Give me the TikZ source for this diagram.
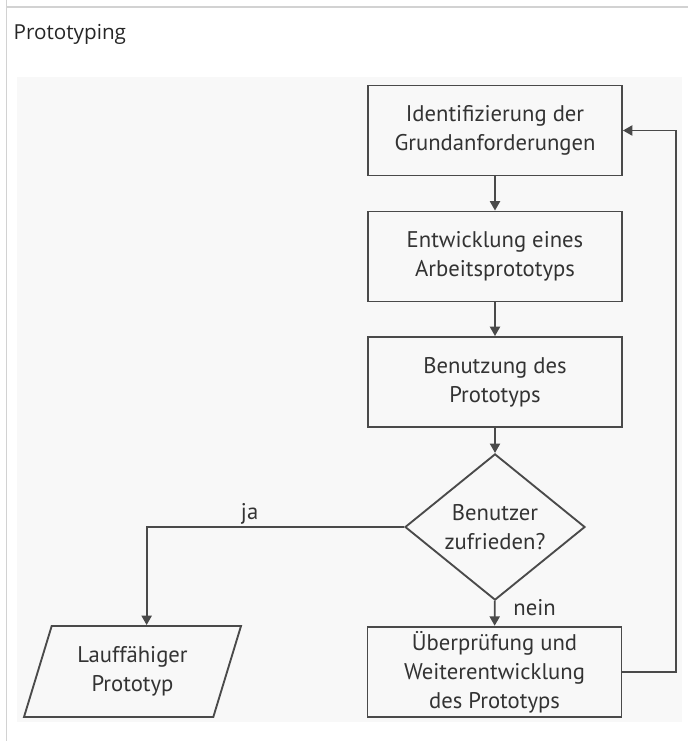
\documentclass[tikz,border=0pt]{standalone}
\usepackage{fontspec}
\setmainfont{PT Sans}
\newfontfamily\titlefont{Open Sans}
\usetikzlibrary{arrows.meta, shapes.geometric}

\definecolor{linegray}{HTML}{4A4A4A}
\definecolor{textgray}{HTML}{333333}
\definecolor{bggray}{HTML}{F8F8F8}
\definecolor{framegray}{HTML}{D2D2D2}

\newcommand{\diagfont}{\fontsize{17}{21.75}\selectfont}

\begin{document}
\begin{tikzpicture}[
    x=0.75pt, y=-0.75pt,
    box/.style={draw=linegray, line width=1.4pt, minimum height=67.5pt,
                minimum width=190.5pt, align=center, font=\diagfont, text=textgray},
    decision/.style={diamond, draw=linegray, line width=1.4pt, inner sep=0pt,
                minimum width=135pt, minimum height=93pt, align=center,
                font=\diagfont, text=textgray},
    result/.style={trapezium, trapezium left angle=64.7, trapezium right angle=115.3,
                trapezium stretches body, draw=linegray, line width=1.4pt,
                minimum width=162.75pt, minimum height=68.25pt, align=center,
                font=\diagfont, text=textgray},
    flow/.style={-{Triangle[length=7pt, width=7.5pt]}, line width=1.4pt, draw=linegray},
    note/.style={font=\diagfont, text=textgray},
]

    \useasboundingbox (0,0) rectangle (688,741);
    \fill[bggray] (17,77) rectangle (682,722);
    \draw[framegray, line width=1.1pt] (6.5,0) -- (6.5,741);
    \draw[framegray, line width=1.1pt] (6.5,7) -- (688,7);

    \node[anchor=west, font=\titlefont\fontsize{15.5}{18}\selectfont, text=black!85] (title) at (9,34) {Prototyping};

    \node[box] (ident) at (495,130.5) {Identifizierung der\\Grundanforderungen};
    \node[box] (dev) at (495,256.5) {Entwicklung eines\\Arbeitsprototyps};
    \node[box] (use) at (495,382) {Benutzung des\\Prototyps};
    \node[decision] (ok) at (495,527) {Benutzer\\zufrieden?};
    \node[box] (rev) at (494.5,672) {Überprüfung und\\Weiterentwicklung\\des Prototyps};
    \node[result] (final) at (132.5,671.5) {Lauffähiger\\Prototyp};
    \coordinate (back) at (676,400);

    \draw[flow] (ident) -- (dev);
    \draw[flow] (dev) -- (use);
    \draw[flow] (use) -- (ok);
    \draw[flow] (ok) -- node[note, right, xshift=10pt, yshift=4pt] {nein} (rev);
    \draw[flow] (ok.west) -| node[note, above, pos=0.30, yshift=-2pt] {ja} (final.top side);
    \draw[flow] (rev.east) -| (back) |- (ident.east);

\end{tikzpicture}
\end{document}
